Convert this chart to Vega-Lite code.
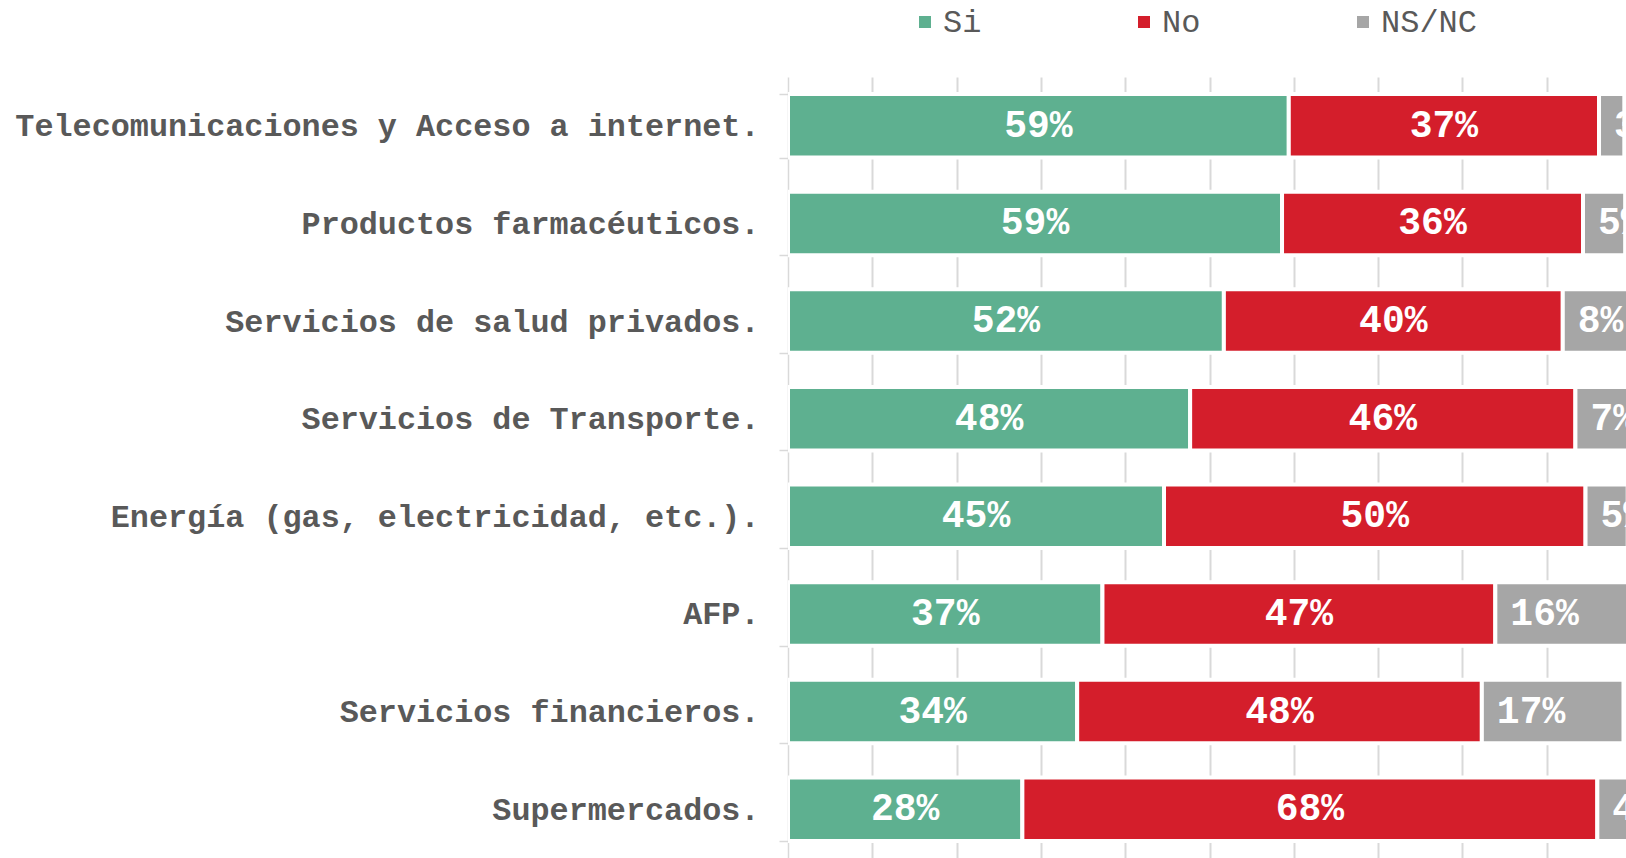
{
  "$schema": "https://vega.github.io/schema/vega-lite/v6.json",
  "width": 838,
  "height": 781,
  "autosize": {"type": "none"},
  "padding": {"left": 788, "top": 77, "right": 0, "bottom": 0},
  "config": {"view": {"stroke": null}, "font": "Liberation Mono"},
  "data": {
    "values": [
      {"cat": "Telecomunicaciones y Acceso a internet.", "resp": "Si", "k": 1, "v": 0.594},
      {"cat": "Telecomunicaciones y Acceso a internet.", "resp": "No", "k": 2, "v": 0.368},
      {"cat": "Telecomunicaciones y Acceso a internet.", "resp": "NS/NC", "k": 3, "v": 0.03},
      {"cat": "Productos farmacéuticos.", "resp": "Si", "k": 1, "v": 0.586},
      {"cat": "Productos farmacéuticos.", "resp": "No", "k": 2, "v": 0.357},
      {"cat": "Productos farmacéuticos.", "resp": "NS/NC", "k": 3, "v": 0.05},
      {"cat": "Servicios de salud privados.", "resp": "Si", "k": 1, "v": 0.517},
      {"cat": "Servicios de salud privados.", "resp": "No", "k": 2, "v": 0.402},
      {"cat": "Servicios de salud privados.", "resp": "NS/NC", "k": 3, "v": 0.08},
      {"cat": "Servicios de Transporte.", "resp": "Si", "k": 1, "v": 0.477},
      {"cat": "Servicios de Transporte.", "resp": "No", "k": 2, "v": 0.457},
      {"cat": "Servicios de Transporte.", "resp": "NS/NC", "k": 3, "v": 0.07},
      {"cat": "Energía (gas, electricidad, etc.).", "resp": "Si", "k": 1, "v": 0.446},
      {"cat": "Energía (gas, electricidad, etc.).", "resp": "No", "k": 2, "v": 0.5},
      {"cat": "Energía (gas, electricidad, etc.).", "resp": "NS/NC", "k": 3, "v": 0.05},
      {"cat": "AFP.", "resp": "Si", "k": 1, "v": 0.373},
      {"cat": "AFP.", "resp": "No", "k": 2, "v": 0.466},
      {"cat": "AFP.", "resp": "NS/NC", "k": 3, "v": 0.16},
      {"cat": "Servicios financieros.", "resp": "Si", "k": 1, "v": 0.343},
      {"cat": "Servicios financieros.", "resp": "No", "k": 2, "v": 0.48},
      {"cat": "Servicios financieros.", "resp": "NS/NC", "k": 3, "v": 0.168},
      {"cat": "Supermercados.", "resp": "Si", "k": 1, "v": 0.278},
      {"cat": "Supermercados.", "resp": "No", "k": 2, "v": 0.682},
      {"cat": "Supermercados.", "resp": "NS/NC", "k": 3, "v": 0.04}
    ]
  },
  "transform": [
    {"stack": "v", "groupby": ["cat"], "sort": [{"field": "k", "order": "ascending"}], "as": ["v0", "v1"]},
    {"calculate": "(datum.v0 + datum.v1) / 2", "as": "mid"}
  ],
  "encoding": {
    "y": {
      "field": "cat",
      "type": "nominal",
      "sort": null,
      "scale": {"paddingInner": 0.35, "paddingOuter": 0.175},
      "axis": {
        "title": null,
        "labelFont": "Liberation Mono",
        "labelFontWeight": "bold",
        "labelFontSize": 31.8,
        "labelColor": "#595959",
        "labelPadding": 20,
        "labelLimit": 780,
        "tickSize": 9,
        "tickColor": "#d9d9d9",
        "tickWidth": 1.5,
        "domainColor": "#d9d9d9",
        "domainWidth": 1.5,
        "tickBand": "extent",
        "grid": false
      }
    }
  },
  "layer": [
    {
      "mark": {"type": "bar", "clip": true, "stroke": "white", "strokeWidth": 4},
      "encoding": {
        "x": {
          "field": "v0",
          "type": "quantitative",
          "scale": {"domain": [0, 0.994], "nice": false, "zero": true},
          "axis": {
            "title": null,
            "labels": false,
            "ticks": false,
            "domain": false,
            "grid": true,
            "gridColor": "#d9d9d9",
            "gridWidth": 2,
            "values": [0.1, 0.2, 0.3, 0.4, 0.5, 0.6, 0.7, 0.8, 0.9]
          }
        },
        "x2": {"field": "v1"},
        "color": {
          "field": "resp",
          "type": "nominal",
          "scale": {"domain": ["Si", "No", "NS/NC"], "range": ["#5eb090", "#d41e2b", "#a6a6a6"]},
          "legend": {
            "orient": "none",
            "legendX": 121,
            "legendY": -71,
            "direction": "horizontal",
            "title": null,
            "symbolType": "square",
            "symbolSize": 144,
            "symbolStrokeWidth": 0,
            "labelFont": "Liberation Mono",
            "labelFontSize": 32,
            "labelColor": "#595959",
            "labelOffset": 2,
            "columnPadding": 146,
            "padding": 0
          }
        }
      }
    },
    {
      "transform": [{"filter": "datum.resp != 'NS/NC'"}],
      "mark": {"type": "text", "clip": true, "font": "Liberation Mono", "fontWeight": "bold", "fontSize": 38, "color": "white", "baseline": "middle"},
      "encoding": {
        "x": {"field": "mid", "type": "quantitative"},
        "text": {"field": "v", "type": "quantitative", "format": ".0%"}
      }
    },
    {
      "transform": [{"filter": "datum.resp == 'NS/NC'"}],
      "mark": {"type": "text", "clip": true, "font": "Liberation Mono", "fontWeight": "bold", "fontSize": 38, "color": "white", "baseline": "middle", "align": "left", "dx": 15},
      "encoding": {
        "x": {"field": "v0", "type": "quantitative"},
        "text": {"field": "v", "type": "quantitative", "format": ".0%"}
      }
    }
  ]
}
